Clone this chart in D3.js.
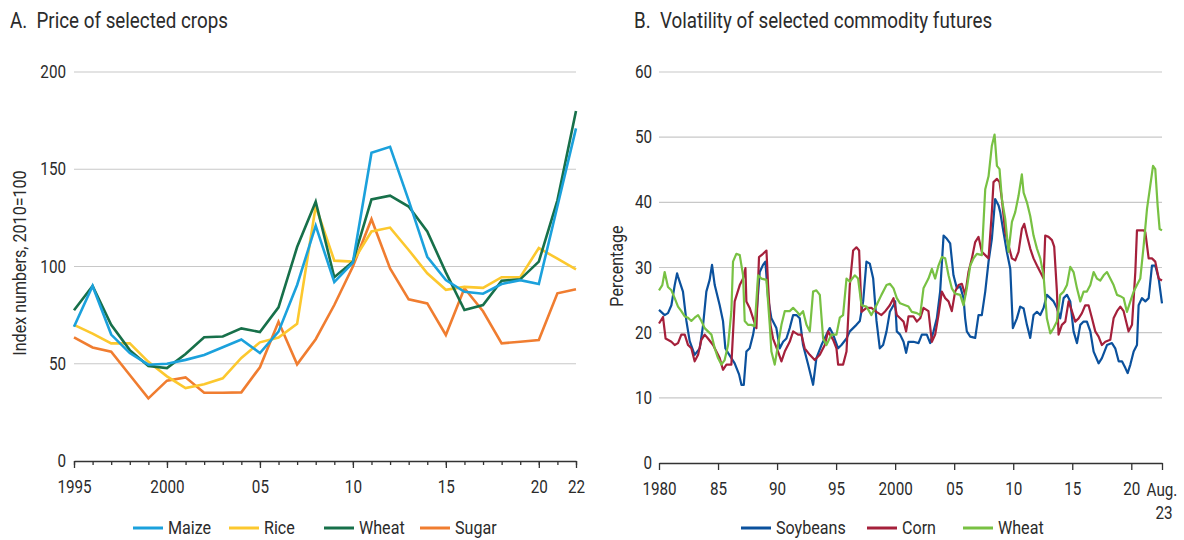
<!DOCTYPE html>
<html>
<head>
<meta charset="utf-8">
<script src="https://cdn.jsdelivr.net/npm/d3@7"></script>
<style>
  body { margin: 0; background: #fff; }
  text { font-family: Roboto, "Noto Sans", sans-serif; fill: #2b2b2b; white-space: pre; }
</style>
</head>
<body>
<svg id="chart" width="1184" height="540"></svg>
<script>
// ---- Panel A data: price index, 2010=100 ----
const cropYears = [1995, 1996, 1997, 1998, 1999, 2000, 2001, 2002, 2003, 2004, 2005, 2006, 2007, 2008,
                   2009, 2010, 2011, 2012, 2013, 2014, 2015, 2016, 2017, 2018, 2019, 2020, 2021, 2022];
const maize = [69, 90, 65, 55.5, 49.5, 50, 52, 54.5, 58.5, 62.5, 55.5, 66.5, 90.5, 121,
               92, 102, 158.5, 161.5, 134, 105, 93, 87, 86, 91, 93, 91, 131, 171];
const rice  = [70, 65.5, 60.5, 60.5, 51, 43.5, 37.5, 39.5, 42.5, 53, 61, 63.5, 70.5, 131,
               103, 102.5, 118, 120, 108.5, 96.5, 88, 89.5, 89, 94.5, 94.5, 109.5, 104, 98.5];
const wheatA = [77.5, 90, 70, 57, 48.8, 47.8, 55, 63.6, 64, 68.2, 66.3, 79, 110, 133.3,
                94.5, 102.5, 134.5, 136.4, 130.8, 118, 97, 77.6, 80.2, 92.7, 93.4, 102.5, 134, 180];
const sugar = [63.6, 58.4, 56.2, 44.2, 32.2, 41.3, 43, 35.1, 35.1, 35.3, 48.2, 71.6, 49.7, 62.6,
               80.2, 100, 124.3, 99, 83.1, 81, 64.8, 88.8, 77, 60.5, 61.3, 62.2, 86.2, 88.3];
const cropTicks = [1995, 2000, 2005, 2010, 2015, 2020, 2022];
const cropTickLabels = ["1995", "2000", "05", "10", "15", "20", "22"];
const cropYTicks = [0, 50, 100, 150, 200];

// ---- Panel B data: volatility (percent), [year, value] ----
const soybeans = [[1980.00,23.5],[1980.48,22.7],[1980.76,23.0],[1981.05,24.2],[1981.33,27.3],[1981.53,29.1],[1981.61,28.6],[1982.03,26.3],[1982.32,21.8],[1982.60,18.7],[1983.02,16.6],[1983.45,17.6],[1983.73,21.1],[1984.01,26.3],[1984.29,28.1],[1984.49,30.4],[1984.72,27.3],[1985.14,24.2],[1985.42,21.8],[1985.62,17.6],[1985.85,16.9],[1986.13,16.1],[1986.41,15.3],[1986.78,13.6],[1986.98,12.0],[1987.18,12.0],[1987.40,17.1],[1987.68,17.6],[1987.97,19.7],[1988.25,22.7],[1988.53,29.3],[1988.81,30.4],[1989.01,30.9],[1989.24,25.3],[1989.52,22.2],[1989.94,20.7],[1990.23,17.6],[1990.51,18.6],[1990.79,19.1],[1991.07,20.7],[1991.36,22.7],[1991.64,22.7],[1991.92,22.2],[1992.20,18.1],[1992.63,15.1],[1993.05,12.0],[1993.33,16.1],[1993.76,18.1],[1994.18,19.7],[1994.46,20.7],[1994.75,19.7],[1995.17,17.6],[1995.45,18.1],[1995.88,19.1],[1996.16,20.2],[1996.44,20.7],[1996.72,21.2],[1997.01,21.8],[1997.29,24.8],[1997.57,30.9],[1997.85,30.6],[1998.14,28.3],[1998.42,21.8],[1998.70,17.6],[1998.98,18.1],[1999.27,20.2],[1999.55,23.2],
  [1999.86,24.2],[2000.00,24.8],[2000.14,20.2],[2000.42,19.7],[2000.71,18.6],[2000.93,16.9],[2001.13,18.6],[2001.55,18.6],[2001.98,18.4],[2002.26,19.7],[2002.68,19.7],[2002.97,18.4],[2003.25,20.2],[2003.53,22.2],[2003.81,26.3],[2004.10,34.9],[2004.38,34.4],[2004.66,33.7],[2004.94,28.8],[2005.23,26.8],[2005.51,27.1],[2005.79,25.3],[2005.93,22.2],[2006.07,20.2],[2006.36,19.4],[2006.78,19.2],[2007.06,22.7],[2007.34,22.7],[2007.63,26.3],[2007.91,30.9],[2008.19,34.4],[2008.47,40.5],[2008.76,39.5],[2008.90,38.5],[2009.18,35.4],[2009.46,32.4],[2009.75,29.8],[2009.97,20.7],[2010.31,22.2],[2010.59,24.0],[2010.88,23.7],[2011.16,21.2],[2011.44,19.2],[2011.72,22.7],[2012.01,23.2],[2012.29,22.7],[2012.57,23.8],[2012.85,25.8],[2013.14,25.3],[2013.42,24.8],[2013.70,23.8],[2013.98,22.2],[2014.27,25.3],[2014.55,25.8],[2014.83,24.8],[2015.11,20.2],[2015.40,18.4],[2015.68,21.2],[2015.96,21.7],[2016.24,21.7],[2016.53,20.2],[2016.81,17.1],[2017.23,15.3],[2017.51,16.1],[2017.94,18.1],[2018.36,18.4],[2018.64,17.6],[2018.93,15.6],[2019.21,15.6],[2019.49,14.6],[2019.69,13.8],[2019.92,15.1],[2020.20,17.1],[2020.48,18.1],[2020.62,24.2],[2020.90,25.3],[2021.19,24.8],[2021.47,25.3],[2021.75,30.3],[2022.03,30.3],[2022.32,28.3],[2022.60,24.5]];
const corn = [[1980.00,21.4],[1980.34,22.4],[1980.56,19.1],[1981.05,18.6],[1981.33,18.1],[1981.61,18.4],[1981.89,19.7],[1982.18,19.7],[1982.46,18.1],[1982.74,17.6],[1983.02,15.6],[1983.31,16.6],[1983.59,18.9],[1983.87,19.7],[1984.15,19.1],[1984.58,18.1],[1984.86,17.1],[1985.14,16.1],[1985.42,14.3],[1985.71,15.1],[1986.13,15.1],[1986.41,24.8],[1986.84,27.3],[1987.12,28.3],[1987.32,29.9],[1987.40,24.8],[1987.68,23.8],[1987.97,22.2],[1988.25,20.7],[1988.47,31.6],[1988.81,32.1],[1989.10,32.6],[1989.24,27.3],[1989.44,21.2],[1989.66,19.1],[1990.08,17.1],[1990.37,15.6],[1990.65,17.1],[1991.07,18.6],[1991.36,20.2],[1991.78,19.7],[1992.06,19.7],[1992.34,17.6],[1992.77,16.6],[1993.19,15.8],[1993.62,16.6],[1994.04,18.1],[1994.32,20.2],[1994.75,18.9],[1995.03,17.6],[1995.17,15.1],[1995.59,15.1],[1995.88,17.1],[1996.16,27.3],[1996.44,32.6],[1996.72,33.1],[1996.95,32.6],[1997.15,23.2],[1997.57,23.8],[1997.99,23.8],[1998.42,23.2],[1998.84,22.7],[1999.12,23.2],[1999.55,24.2],
  [1999.86,25.3],[2000.14,22.7],[2000.42,22.2],[2000.71,21.7],[2000.93,20.2],[2001.13,22.5],[2001.55,22.5],[2001.84,21.7],[2002.12,22.2],[2002.40,23.8],[2002.82,23.3],[2003.11,18.6],[2003.39,19.7],[2003.67,22.7],[2003.95,26.3],[2004.24,25.3],[2004.52,24.8],[2004.80,23.3],[2005.08,26.3],[2005.37,27.3],[2005.65,27.5],[2005.93,25.8],[2006.21,29.3],[2006.50,31.4],[2006.78,33.9],[2007.06,34.7],[2007.34,32.4],[2007.63,31.9],[2007.91,31.4],[2008.19,38.5],[2008.33,43.1],[2008.62,43.6],[2008.84,43.1],[2009.04,40.5],[2009.32,35.4],[2009.60,33.4],[2009.89,31.4],[2010.17,31.1],[2010.45,32.4],[2010.73,35.9],[2010.93,36.7],[2011.16,34.9],[2011.44,32.9],[2011.72,31.4],[2012.01,30.3],[2012.29,29.3],[2012.57,28.3],[2012.71,34.9],[2012.99,34.7],[2013.28,34.2],[2013.47,33.2],[2013.70,26.3],[2013.84,19.7],[2014.12,21.2],[2014.41,21.7],[2014.69,24.8],[2014.97,23.3],[2015.25,21.7],[2015.54,22.2],[2015.82,23.0],[2016.10,24.2],[2016.38,24.2],[2016.67,22.2],[2016.95,20.2],[2017.23,19.4],[2017.51,18.1],[2017.80,18.6],[2018.22,18.9],[2018.50,22.2],[2018.79,23.3],[2019.07,24.0],[2019.35,23.3],[2019.63,21.2],[2019.77,20.2],[2020.06,21.2],[2020.34,29.3],[2020.48,35.7],[2020.76,35.7],[2021.05,35.7],[2021.19,35.4],[2021.47,31.4],[2021.75,31.4],[2022.03,30.9],[2022.32,28.3],[2022.60,28.0]];
const wheatB = [[1980.00,26.5],[1980.28,27.3],[1980.48,29.3],[1980.76,27.0],[1981.05,26.5],[1981.33,25.3],[1981.61,24.0],[1981.89,23.3],[1982.18,22.5],[1982.46,22.3],[1982.74,21.8],[1983.02,22.3],[1983.31,22.7],[1983.59,21.8],[1983.87,20.7],[1984.15,20.2],[1984.44,19.7],[1984.72,17.6],[1985.00,16.1],[1985.28,15.1],[1985.56,15.8],[1985.85,18.1],[1986.13,23.3],[1986.27,30.9],[1986.55,32.1],[1986.84,31.9],[1987.12,28.8],[1987.26,21.8],[1987.54,21.2],[1987.82,21.2],[1988.11,21.0],[1988.39,28.8],[1988.67,28.3],[1989.10,28.1],[1989.38,21.2],[1989.52,17.1],[1989.80,15.1],[1990.08,18.1],[1990.37,21.2],[1990.65,23.3],[1991.07,23.3],[1991.36,23.8],[1991.64,23.3],[1991.92,22.7],[1992.20,23.3],[1992.49,21.2],[1992.77,20.2],[1993.05,26.3],[1993.33,26.5],[1993.62,25.8],[1993.90,19.1],[1994.18,18.1],[1994.60,19.7],[1995.03,19.7],[1995.31,22.3],[1995.59,22.7],[1995.88,28.3],[1996.16,27.8],[1996.58,28.8],[1996.86,28.3],[1997.15,24.2],[1997.57,24.0],[1997.99,22.7],[1998.42,24.2],[1998.84,25.8],[1999.27,27.3],[1999.55,27.5],
  [1999.86,26.8],[2000.14,25.3],[2000.42,24.5],[2000.85,24.2],[2001.13,24.0],[2001.41,23.2],[2001.84,23.0],[2002.12,22.7],[2002.40,26.8],[2002.82,28.3],[2003.11,29.8],[2003.39,28.3],[2003.67,30.3],[2003.95,31.6],[2004.24,31.4],[2004.52,28.8],[2004.80,26.8],[2005.08,26.0],[2005.51,25.8],[2005.79,24.2],[2006.07,26.8],[2006.36,30.3],[2006.64,31.4],[2006.92,32.1],[2007.34,31.9],[2007.63,42.0],[2007.91,44.0],[2008.19,48.7],[2008.42,50.4],[2008.62,45.6],[2008.84,45.1],[2009.04,40.5],[2009.32,37.5],[2009.60,32.4],[2009.89,37.0],[2010.17,38.5],[2010.45,41.0],[2010.73,44.3],[2010.88,41.5],[2011.16,40.0],[2011.44,37.9],[2011.72,34.9],[2012.01,32.9],[2012.29,31.4],[2012.57,28.8],[2012.85,22.2],[2013.14,19.9],[2013.42,20.7],[2013.70,21.7],[2013.98,25.8],[2014.27,26.3],[2014.55,27.3],[2014.83,30.1],[2015.11,29.3],[2015.40,26.8],[2015.68,24.8],[2015.96,26.3],[2016.24,26.3],[2016.53,27.3],[2016.81,29.3],[2017.09,28.3],[2017.37,28.0],[2017.66,28.8],[2017.94,29.3],[2018.22,28.3],[2018.50,27.3],[2018.79,25.8],[2019.07,25.6],[2019.35,25.3],[2019.63,23.2],[2019.92,24.8],[2020.20,26.3],[2020.48,27.3],[2020.76,28.3],[2021.05,33.4],[2021.33,39.0],[2021.61,42.6],[2021.84,45.6],[2022.03,45.1],[2022.23,39.5],[2022.40,35.9],[2022.60,35.7]];
const volTicks = [1980, 1985, 1990, 1995, 2000, 2005, 2010, 2015, 2020];
const volTickLabels = ["1980", "85", "90", "95", "2000", "05", "10", "15", "20"];
const volEnd = 2022.6;
const volEndLabel = ["Aug.", "23"];
const volYTicks = [0, 10, 20, 30, 40, 50, 60];

const svg = d3.select("#chart");
const gridColor = "#c8c8c8";
const axisColor = "#333";
const SQUEEZE = 0.87; // Roboto squeezed to look like a condensed face
const tickFont = 17.5, labelFont = 18.5, titleFont = 21.6;

// ================= Panel A =================
const xA = d3.scaleLinear().domain([1995, 2022]).range([74, 576]);
const yA = d3.scaleLinear().domain([0, 200]).range([461, 72]);

svg.append("text").attr("x", 10).attr("y", 28).attr("font-size", titleFont).text("A.  Price of selected crops");

const gA = svg.append("g");
gA.selectAll(".grid").data(cropYTicks.filter(d => d > 0)).enter().append("line")
  .attr("x1", xA(1995)).attr("x2", xA(2022))
  .attr("y1", d => yA(d)).attr("y2", d => yA(d))
  .attr("stroke", gridColor).attr("stroke-width", 1.2);

gA.append("g").attr("transform", `translate(${xA(1995) - 8},0)`)
  .call(d3.axisLeft(yA).tickValues(cropYTicks).tickSize(0).tickPadding(0))
  .call(g => g.select(".domain").remove())
  .call(g => g.selectAll("text").attr("font-size", tickFont).attr("fill", "#2b2b2b").style("font-family", null));

// minor ticks, then major ticks with labels
gA.append("g").attr("transform", `translate(0,${yA(0)})`)
  .call(d3.axisBottom(xA).tickValues(cropYears).tickSize(4).tickFormat("").tickSizeOuter(0))
  .call(g => g.selectAll("line,path").attr("stroke", axisColor).attr("stroke-width", 1.3));
gA.append("g").attr("transform", `translate(0,${yA(0)})`)
  .call(d3.axisBottom(xA).tickValues(cropTicks).tickSize(7).tickPadding(13).tickSizeOuter(0)
    .tickFormat((d, i) => cropTickLabels[i]))
  .call(g => g.select(".domain").remove())
  .call(g => g.selectAll("line").attr("stroke", axisColor).attr("stroke-width", 1.3))
  .call(g => g.selectAll("text").attr("font-size", tickFont).attr("fill", "#2b2b2b").style("font-family", null));

svg.append("text").attr("transform", "translate(26,263) rotate(-90)")
  .attr("text-anchor", "middle").attr("font-size", labelFont).text("Index numbers, 2010=100");

const cropSeries = [
  { name: "Maize", values: maize, color: "#1ba1dc" },
  { name: "Rice", values: rice, color: "#fcc82e" },
  { name: "Wheat", values: wheatA, color: "#17704a" },
  { name: "Sugar", values: sugar, color: "#f07d30" }
];
const lineA = d3.line().x((d, i) => xA(cropYears[i])).y(d => yA(d));
// draw order: sugar, rice, wheat, maize on top
[3, 1, 2, 0].forEach(k => {
  gA.append("path").datum(cropSeries[k].values)
    .attr("d", lineA).attr("fill", "none")
    .attr("stroke", cropSeries[k].color).attr("stroke-width", 2.6)
    .attr("stroke-linejoin", "miter");
});

const legA = [133, 229, 324, 420];
cropSeries.forEach((s, i) => {
  svg.append("line").attr("x1", legA[i]).attr("x2", legA[i] + 30).attr("y1", 528).attr("y2", 528)
    .attr("stroke", s.color).attr("stroke-width", 3);
  svg.append("text").attr("x", legA[i] + 35).attr("y", 534.5).attr("font-size", labelFont).text(s.name);
});

// ================= Panel B =================
const xB = d3.scaleLinear().domain([1980, volEnd]).range([659, 1162]);
const yB = d3.scaleLinear().domain([0, 60]).range([463, 72]);

svg.append("text").attr("x", 634).attr("y", 28).attr("font-size", titleFont).text("B.  Volatility of selected commodity futures");

const gB = svg.append("g");
gB.selectAll(".grid").data(volYTicks.filter(d => d > 0)).enter().append("line")
  .attr("x1", xB(1980)).attr("x2", xB(volEnd))
  .attr("y1", d => yB(d)).attr("y2", d => yB(d))
  .attr("stroke", gridColor).attr("stroke-width", 1.2);

gB.append("g").attr("transform", `translate(${xB(1980) - 7},0)`)
  .call(d3.axisLeft(yB).tickValues(volYTicks).tickSize(0).tickPadding(0))
  .call(g => g.select(".domain").remove())
  .call(g => g.selectAll("text").attr("font-size", tickFont).attr("fill", "#2b2b2b").style("font-family", null));

gB.append("g").attr("transform", `translate(0,${yB(0)})`)
  .call(d3.axisBottom(xB).tickValues(volTicks.concat([volEnd])).tickSize(7).tickPadding(13).tickSizeOuter(0)
    .tickFormat((d, i) => i < volTickLabels.length ? volTickLabels[i] : ""))
  .call(g => g.selectAll("line,path").attr("stroke", axisColor).attr("stroke-width", 1.3))
  .call(g => g.selectAll("text").attr("font-size", tickFont).attr("fill", "#2b2b2b").style("font-family", null));

volEndLabel.forEach((t, i) => {
  gB.append("text").attr("x", xB(volEnd) + (i === 0 ? 0 : 2)).attr("y", yB(0) + 33 + i * 23)
    .attr("text-anchor", "middle").attr("font-size", tickFont).text(t);
});

svg.append("text").attr("transform", "translate(623,266) rotate(-90)")
  .attr("text-anchor", "middle").attr("font-size", labelFont).text("Percentage");

const volSeries = [
  { name: "Soybeans", values: soybeans, color: "#0b519d" },
  { name: "Corn", values: corn, color: "#a5203b" },
  { name: "Wheat", values: wheatB, color: "#78c143" }
];
const lineB = d3.line().x(d => xB(d[0])).y(d => yB(d[1]));
volSeries.forEach(s => {
  gB.append("path").datum(s.values)
    .attr("d", lineB).attr("fill", "none")
    .attr("stroke", s.color).attr("stroke-width", 2.2)
    .attr("stroke-linejoin", "round");
});

const legB = [741, 867, 963];
volSeries.forEach((s, i) => {
  svg.append("line").attr("x1", legB[i]).attr("x2", legB[i] + 30).attr("y1", 528).attr("y2", 528)
    .attr("stroke", s.color).attr("stroke-width", 3);
  svg.append("text").attr("x", legB[i] + 35).attr("y", 534.5).attr("font-size", labelFont).text(s.name);
});

// squeeze every label horizontally around its own anchor
svg.selectAll("text").each(function () {
  const t = d3.select(this);
  const x = +t.attr("x") || 0;
  const tr = t.attr("transform") || "";
  t.attr("transform", `${tr} translate(${x},0) scale(${SQUEEZE},1) translate(${-x},0)`);
});
</script>
</body>
</html>
